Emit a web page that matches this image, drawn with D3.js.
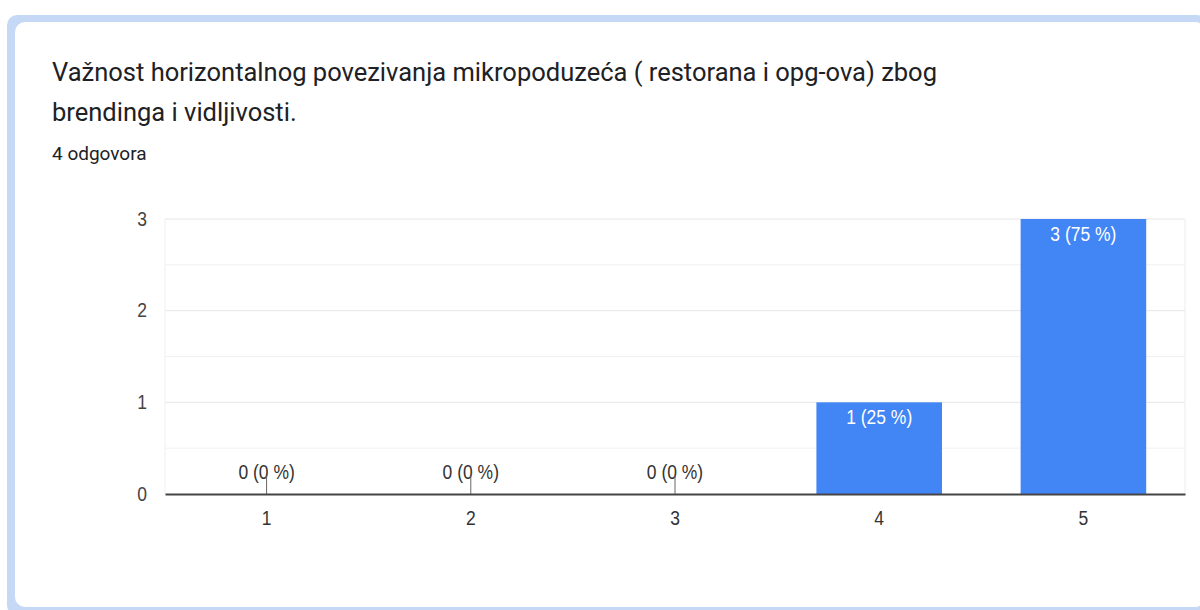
<!DOCTYPE html>
<html>
<head>
<meta charset="utf-8">
<script src="https://cdn.jsdelivr.net/npm/d3@7"></script>
<style>
html,body{margin:0;padding:0;background:#fff;}
svg{display:block;}
</style>
</head>
<body>
<svg id="c" width="1200" height="610"></svg>
<script>
const categories = ["1","2","3","4","5"];
const values = [0,0,0,1,3];
const percents = ["0 %","0 %","0 %","25 %","75 %"];
const yTicks = [0,1,2,3];
const titleLines = ["Važnost horizontalnog povezivanja mikropoduzeća ( restorana i opg-ova) zbog","brendinga i vidljivosti."];
const subtitle = "4 odgovora";

(function(){
const svg = d3.select("#c");
svg.append("rect").attr("x",0).attr("y",0).attr("width",1200).attr("height",610).attr("fill","#fff");
svg.append("rect").attr("x",7).attr("y",15).attr("width",1200).attr("height",600).attr("rx",10).attr("fill","#c5d8f6");
svg.append("rect").attr("x",15).attr("y",22).attr("width",1190).attr("height",585).attr("rx",10).attr("fill","#fff");

const font = "Roboto, Arial, sans-serif";
const afont = "Arial, 'Liberation Sans', sans-serif";
const FS = 17.5, SY = 1.2;
svg.selectAll("text.title").data(titleLines).enter().append("text")
  .attr("x",52).attr("y",(d,i)=>81+i*40)
  .attr("font-family",font).attr("font-size",25.5).attr("fill","#202124").text(d=>d);
svg.append("text").attr("x",52).attr("y",160).attr("font-family",font).attr("font-size",19).attr("fill","#202124").text(subtitle);

const pL=165, pR=1185, pT=219, pB=494;
const x = d3.scaleBand().domain(categories).range([pL,pR]).paddingInner(0.385).paddingOuter(0.19);
const y = d3.scaleLinear().domain([0,3]).range([pB,pT]);

const g = svg.append("g");
g.selectAll("line.minor").data(d3.range(0.5,3,1)).enter().append("line")
  .attr("x1",pL).attr("x2",pR).attr("y1",d=>y(d)).attr("y2",d=>y(d))
  .attr("stroke","#f1f1f1").attr("stroke-width",1);
g.selectAll("line.major").data(yTicks.filter(d=>d>0)).enter().append("line")
  .attr("x1",pL).attr("x2",pR).attr("y1",d=>y(d)).attr("y2",d=>y(d))
  .attr("stroke","#e6e6e6").attr("stroke-width",1);
g.append("line").attr("x1",pR).attr("x2",pR).attr("y1",pT).attr("y2",pB).attr("stroke","#ededed");
g.append("line").attr("x1",pL).attr("x2",pL).attr("y1",pT).attr("y2",pB).attr("stroke","#f0f0f0");

const yAxis = d3.axisLeft(y).tickValues(yTicks).tickSize(0).tickPadding(18).tickFormat(d3.format("d"));
const ya = svg.append("g").attr("transform",`translate(${pL},0)`).call(yAxis);
ya.select(".domain").remove();
ya.selectAll("text").attr("font-family",afont).attr("font-size",FS).attr("fill","#444")
  .attr("dy","0.3em").attr("transform",`scale(1,${SY})`);

svg.selectAll("rect.bar").data(values).enter().append("rect")
  .attr("x",(d,i)=>x(categories[i])).attr("width",x.bandwidth())
  .attr("y",d=>y(d)).attr("height",d=>pB-y(d)).attr("fill","#4285f4");

function label(cx, by, txt, col){
  svg.append("g").attr("transform",`translate(${cx},${by}) scale(1,${SY})`)
    .append("text").attr("text-anchor","middle")
    .attr("font-family",afont).attr("font-size",FS).attr("fill",col).text(txt);
}
values.forEach((v,i)=>{
  const cx = x(categories[i])+x.bandwidth()/2;
  const txt = `${v} (${percents[i]})`;
  if(v>0){
    label(cx, y(v)+22, txt, "#fff");
  } else {
    label(cx, 479, txt, "#333");
    svg.append("line").attr("x1",cx).attr("x2",cx).attr("y1",476).attr("y2",pB).attr("stroke","#666").attr("stroke-width",1);
  }
});

const xAxis = d3.axisBottom(x).tickSize(0).tickPadding(13);
const xa = svg.append("g").attr("transform",`translate(0,${pB})`).call(xAxis);
xa.select(".domain").attr("stroke","#444").attr("stroke-width",2);
xa.selectAll("text").attr("font-family",afont).attr("font-size",FS).attr("fill","#333")
  .attr("transform",`scale(1,${SY})`);
})();
</script>
</body>
</html>
